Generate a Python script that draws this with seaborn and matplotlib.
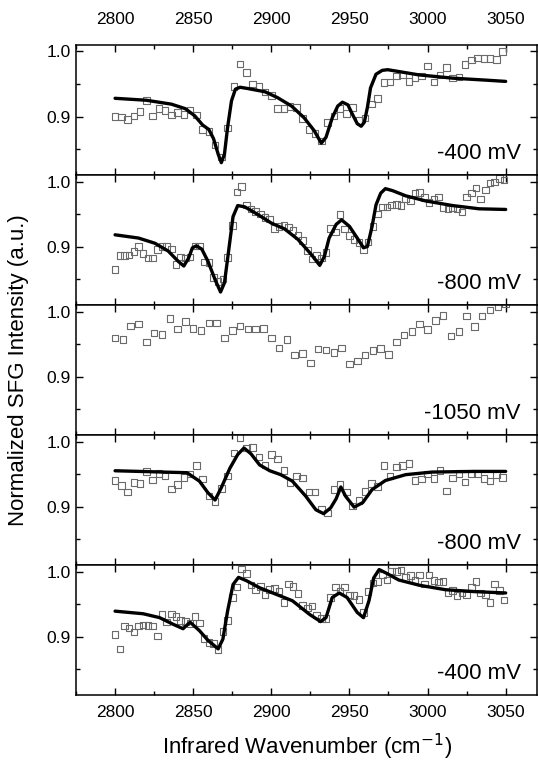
import numpy as np
import pandas as pd
import matplotlib
matplotlib.use("Agg")
import matplotlib.pyplot as plt
import seaborn as sns
from matplotlib.ticker import MultipleLocator

# ---------------- data ----------------
# panel 1 (-400 mV, top): 4 cm-1 steps
x1 = list(range(2800, 3049, 4))
y1 = [0.900, 0.899, 0.895, 0.901, 0.908, 0.925, 0.901, 0.912, 0.909, 0.902,
      0.906, 0.903, 0.910, 0.902, 0.880, 0.877, 0.856, 0.838, 0.882, 0.946,
      0.981, 0.968, 0.950, 0.946, 0.938, 0.932, 0.912, 0.912, 0.915, 0.914,
      0.897, 0.880, 0.874, 0.862, 0.891, 0.901, 0.912, 0.905, 0.914, 0.894,
      0.898, 0.919, 0.928, 0.952, 0.953, 0.962, 0.964, 0.954, 0.960, 0.962,
      0.978, 0.953, 0.964, 0.975, 0.959, 0.961, 0.980, 0.987, 0.990, 0.989,
      0.989, 0.988, 1.000]
fx1 = [2800, 2820, 2836, 2845, 2851, 2856, 2860, 2863, 2866, 2868, 2870, 2872,
       2874.5, 2877, 2880, 2885, 2896, 2904, 2913, 2921, 2927.5, 2932, 2935,
       2939, 2942.5, 2945.5, 2949, 2952, 2955, 2957.5, 2959.5, 2961.5, 2963.5,
       2967, 2971, 2974.5, 2982, 2994.5, 3016, 3037, 3050]
fy1 = [0.928, 0.925, 0.919, 0.912, 0.901, 0.887, 0.880, 0.866, 0.842, 0.829,
       0.842, 0.883, 0.924, 0.942, 0.945, 0.943, 0.938, 0.929, 0.916, 0.898,
       0.878, 0.859, 0.868, 0.898, 0.916, 0.922, 0.918, 0.903, 0.889, 0.885,
       0.891, 0.914, 0.944, 0.965, 0.971, 0.972, 0.969, 0.964, 0.959, 0.956,
       0.954]

# panel 2 (-800 mV): 3 cm-1 steps
x2 = list(range(2800, 3050, 3))
y2 = [0.865, 0.886, 0.886, 0.887, 0.892, 0.900, 0.889, 0.882, 0.882, 0.895,
      0.900, 0.900, 0.896, 0.872, 0.884, 0.882, 0.884, 0.901, 0.901, 0.876,
      0.875, 0.852, 0.846, 0.850, 0.883, 0.932, 0.984, 0.992, 0.964, 0.958,
      0.954, 0.950, 0.945, 0.942, 0.928, 0.931, 0.933, 0.930, 0.925, 0.917,
      0.909, 0.894, 0.881, 0.886, 0.882, 0.891, 0.928, 0.922, 0.949, 0.927,
      0.917, 0.911, 0.906, 0.895, 0.907, 0.931, 0.950, 0.961, 0.961, 0.964,
      0.965, 0.963, 0.973, 0.970, 0.982, 0.983, 0.975, 0.968, 0.973, 0.976,
      0.960, 0.958, 0.959, 0.958, 0.953, 0.976, 0.982, 0.990, 0.973, 0.987,
      0.998, 0.999, 1.005, 1.002]
fx2 = [2800, 2815, 2825.5, 2834, 2840.5, 2844, 2847, 2849.5, 2852, 2855.5,
       2859.5, 2864, 2867.5, 2870, 2872.5, 2875.5, 2878.5, 2883, 2891.5, 2900,
       2908.5, 2917, 2925.5, 2931, 2934, 2937, 2941.5, 2945, 2950, 2955,
       2959, 2961.5, 2964.5, 2967, 2970, 2973, 2977.5, 2986, 2999, 3016,
       3033, 3050]
fy2 = [0.918, 0.913, 0.905, 0.893, 0.877, 0.870, 0.882, 0.898, 0.901, 0.896,
       0.877, 0.849, 0.830, 0.844, 0.890, 0.946, 0.963, 0.961, 0.949, 0.936,
       0.927, 0.911, 0.888, 0.871, 0.885, 0.913, 0.934, 0.941, 0.931, 0.913,
       0.898, 0.900, 0.931, 0.964, 0.982, 0.989, 0.986, 0.978, 0.970, 0.963,
       0.958, 0.957]

# panel 3 (-1050 mV): 5 cm-1 steps, no fit
x3 = list(range(2800, 3051, 5))
y3 = [0.959, 0.957, 0.978, 0.981, 0.953, 0.967, 0.965, 0.989, 0.973, 0.985,
      0.974, 0.971, 0.982, 0.982, 0.959, 0.971, 0.978, 0.973, 0.973, 0.974,
      0.959, 0.944, 0.957, 0.933, 0.935, 0.921, 0.942, 0.941, 0.937, 0.944,
      0.919, 0.924, 0.933, 0.940, 0.943, 0.934, 0.953, 0.964, 0.969, 0.981,
      0.972, 0.986, 0.994, 0.962, 0.969, 0.993, 0.977, 0.993, 1.002, 1.007,
      1.012]

# panel 4 (-800 mV): 4 cm-1 steps
x4 = list(range(2800, 3049, 4))
y4 = [0.940, 0.932, 0.922, 0.937, 0.935, 0.954, 0.941, 0.951, 0.947, 0.927,
      0.934, 0.945, 0.950, 0.963, 0.942, 0.916, 0.908, 0.928, 0.947, 0.982,
      1.006, 0.990, 0.991, 0.976, 0.964, 0.980, 0.973, 0.955, 0.937, 0.947,
      0.944, 0.922, 0.922, 0.896, 0.890, 0.926, 0.934, 0.922, 0.901, 0.909,
      0.923, 0.935, 0.931, 0.963, 0.947, 0.961, 0.963, 0.966, 0.940, 0.942,
      0.950, 0.943, 0.955, 0.924, 0.944, 0.951, 0.938, 0.950, 0.950, 0.943,
      0.939, 0.949, 0.945]
fx4 = [2800, 2846, 2854, 2859.5, 2864, 2868, 2873.5, 2878.5, 2882.5, 2887,
       2892.5, 2899, 2906, 2913.5, 2922, 2928.5, 2933.5, 2938, 2941.5, 2944.5,
       2947.5, 2953, 2958.5, 2964.5, 2973, 2986, 3003, 3030, 3050]
fy4 = [0.955, 0.952, 0.939, 0.921, 0.910, 0.929, 0.959, 0.980, 0.990, 0.981,
       0.964, 0.955, 0.949, 0.939, 0.916, 0.895, 0.889, 0.898, 0.912, 0.930,
       0.916, 0.899, 0.906, 0.926, 0.940, 0.949, 0.953, 0.954, 0.954]

# panel 5 (-400 mV, bottom): 3 cm-1 steps
x5 = list(range(2800, 3050, 3))
y5 = [0.903, 0.881, 0.916, 0.913, 0.907, 0.916, 0.918, 0.917, 0.916, 0.901,
      0.934, 0.922, 0.935, 0.931, 0.925, 0.923, 0.920, 0.931, 0.921, 0.897,
      0.891, 0.889, 0.880, 0.908, 0.925, 0.960, 0.976, 1.004, 0.997, 0.979,
      0.972, 0.977, 0.965, 0.972, 0.974, 0.970, 0.952, 0.981, 0.977, 0.966,
      0.948, 0.944, 0.947, 0.933, 0.928, 0.928, 0.960, 0.976, 0.970, 0.976,
      0.964, 0.963, 0.957, 0.937, 0.969, 0.982, 0.985, 0.995, 0.987, 1.001,
      1.000, 1.002, 0.991, 0.994, 0.987, 0.995, 0.981, 0.995, 0.986, 0.984,
      0.985, 0.967, 0.971, 0.963, 0.967, 0.964, 0.976, 0.985, 0.967, 0.964,
      0.952, 0.981, 0.971, 0.956]
fx5 = [2800, 2818, 2828.5, 2837, 2843.5, 2848, 2854, 2859.5, 2866, 2869,
       2872, 2875.5, 2879, 2884, 2892.5, 2903, 2913.5, 2924.5, 2931.5, 2935,
       2939, 2943.5, 2948.5, 2955, 2959, 2962.5, 2965.5, 2969, 2974, 2981.5,
       2994.5, 3011.5, 3030.5, 3050]
fy5 = [0.939, 0.935, 0.929, 0.919, 0.912, 0.922, 0.909, 0.894, 0.881, 0.896,
       0.939, 0.980, 0.991, 0.986, 0.975, 0.965, 0.955, 0.934, 0.923, 0.929,
       0.960, 0.967, 0.960, 0.937, 0.929, 0.955, 0.990, 1.003, 0.997, 0.987,
       0.979, 0.972, 0.969, 0.967]

labels = ["-400 mV", "-800 mV", "-1050 mV", "-800 mV", "-400 mV"]
xticks = [2800, 2850, 2900, 2950, 3000, 3050]
yticks = [0.9, 1.0]

panels = [(x1, y1, fx1, fy1), (x2, y2, fx2, fy2), (x3, y3, None, None),
          (x4, y4, fx4, fy4), (x5, y5, fx5, fy5)]

# ---------------- plot ----------------
sns.set_style("ticks")
plt.rcParams["font.family"] = ["Liberation Sans", "DejaVu Sans"]
plt.rcParams["axes.linewidth"] = 1.1
plt.rcParams["text.color"] = "black"

fig = plt.figure(figsize=(5.38, 7.64), dpi=100)
axes = fig.subplots(5, 1, sharex=True)
fig.subplots_adjust(left=0.1413, right=0.998, top=0.9411, bottom=0.0903, hspace=0)

for i, (ax, (px, py, fx, fy)) in enumerate(zip(axes, panels)):
    df = pd.DataFrame({"x": px, "y": py})
    sns.scatterplot(data=df, x="x", y="y", ax=ax, marker="s", s=22,
                    facecolor="none", edgecolor="#6a6a6a", linewidth=0.8,
                    zorder=2)
    if fx is not None:
        dff = pd.DataFrame({"x": fx, "y": fy})
        sns.lineplot(data=dff, x="x", y="y", ax=ax, color="black", lw=2.4,
                     estimator=None, sort=False, zorder=3)
    ax.set_xlim(2775, 3070)
    ax.set_ylim(0.81, 1.01)
    ax.set_xticks(xticks)
    ax.xaxis.set_minor_locator(MultipleLocator(25))
    ax.set_yticks(yticks)
    ax.set_yticklabels(["0.9", "1.0"])
    ax.yaxis.set_minor_locator(MultipleLocator(0.05))
    ax.set_xlabel("")
    ax.set_ylabel("")
    ax.tick_params(which="both", direction="in", top=True, right=True,
                   bottom=True, left=True, width=1.0, labelsize=12.5,
                   colors="black")
    ax.tick_params(which="major", length=5)
    ax.tick_params(which="minor", length=3)
    ax.tick_params(axis="x", labelbottom=(i == 4), labeltop=(i == 0),
                   pad=(13 if i == 0 else 7))
    ax.tick_params(axis="y", pad=4)
    for sp in ax.spines.values():
        sp.set_visible(True)
        sp.set_linewidth(1.1)
        sp.set_color("black")
    ax.text(0.965, 0.12, labels[i], transform=ax.transAxes, ha="right",
            va="baseline", fontsize=16, color="black")

fig.text(0.035, 0.516, "Normalized SFG Intensity (a.u.)", rotation=90,
         ha="center", va="center", fontsize=16, color="black")
fig.text(0.57, 0.022, "Infrared Wavenumber (cm$^{-1}$)", ha="center",
         va="center", fontsize=16, color="black")

fig.savefig("out.png", dpi=100)
